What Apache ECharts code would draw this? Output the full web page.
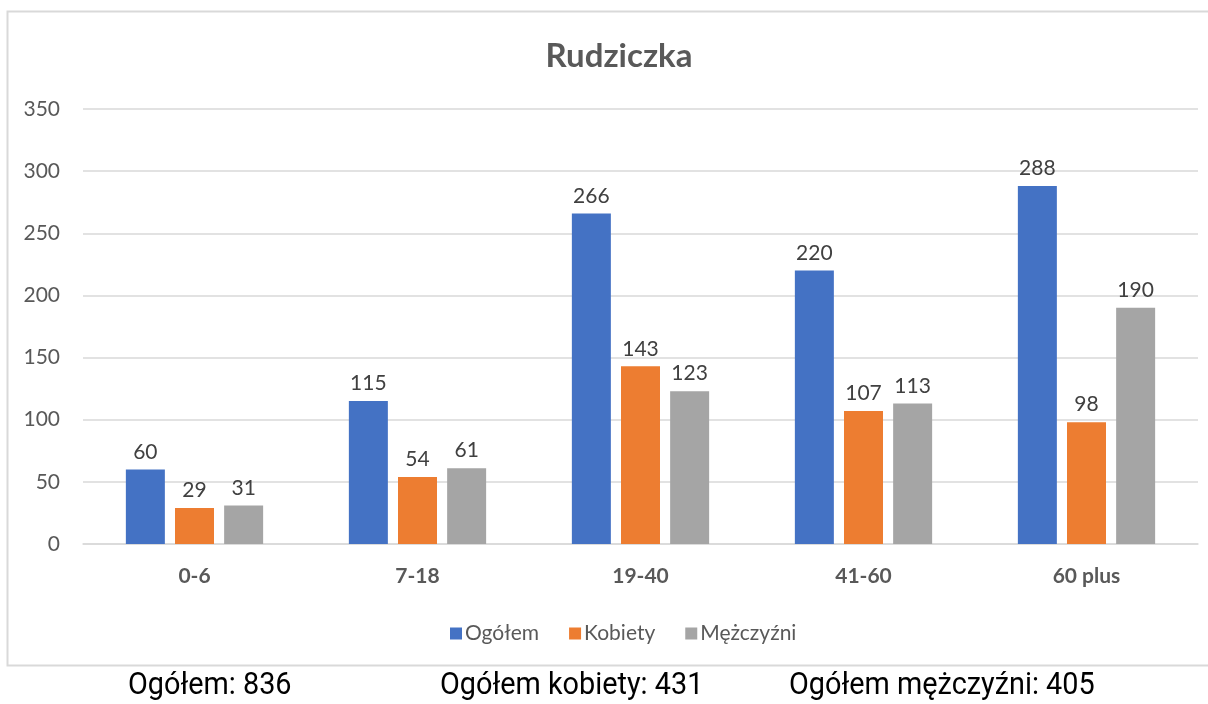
<!DOCTYPE html>
<html><head><meta charset="utf-8">
<script src="https://cdn.jsdelivr.net/npm/echarts@6/dist/echarts.min.js"></script>
<style>html,body{margin:0;padding:0;background:#fff}#c{width:1208px;height:704px}</style>
</head><body><div id="c"></div>
<script>
const categories = ['0-6', '7-18', '19-40', '41-60', '60 plus'];
const ogolem = [60, 115, 266, 220, 288];
const kobiety = [29, 54, 143, 107, 98];
const mezczyzni = [31, 61, 123, 113, 190];
const seriesNames = ['Ogółem', 'Kobiety', 'Mężczyźni'];
const yTicks = [0, 50, 100, 150, 200, 250, 300, 350];
const footer = ['Ogółem: 836', 'Ogółem kobiety: 431', 'Ogółem mężczyźni: 405'];

const font = 'Lato, "Open Sans", sans-serif';
const chart = echarts.init(document.getElementById('c'));
const lbl = {show: true, position: 'top', distance: 7, color: '#404040', fontSize: 21, fontFamily: font};
const foot = (x, t) => ({type: 'text', x: x, y: 671, scaleX: 0.93, originX: 0, originY: 0,
  style: {text: t, fontSize: 31, fill: '#000', fontFamily: 'Roboto, sans-serif'}});
chart.setOption({
  animation: false,
  title: {text: 'Rudziczka', left: 614, top: 35, textAlign: 'center',
    textStyle: {fontSize: 33, fontWeight: 'bold', color: '#595959', fontFamily: font}},
  grid: {left: 83, right: 10, top: 109, bottom: 160},
  legend: {left: 445, top: 618, itemWidth: 12, itemHeight: 12, itemGap: 30, icon: 'rect',
    textStyle: {fontSize: 21, color: '#595959', fontFamily: font, padding: [0, 0, 0, -2]},
    data: seriesNames},
  xAxis: {type: 'category', data: categories,
    axisLine: {lineStyle: {color: '#d9d9d9', width: 1.5}}, axisTick: {show: false},
    axisLabel: {margin: 22, fontSize: 21, fontWeight: 'bold', color: '#595959', fontFamily: font}},
  yAxis: {type: 'value', min: yTicks[0], max: yTicks[yTicks.length - 1], interval: 50,
    axisLine: {show: false}, axisTick: {show: false},
    splitLine: {lineStyle: {color: '#d9d9d9', width: 1.5}},
    axisLabel: {margin: 23, fontSize: 21, color: '#595959', fontFamily: font}},
  series: [
    {name: seriesNames[0], type: 'bar', data: ogolem, barWidth: 39, barGap: '26%', itemStyle: {color: '#4472C4'}, label: lbl},
    {name: seriesNames[1], type: 'bar', data: kobiety, barWidth: 39, barGap: '26%', itemStyle: {color: '#ED7D31'}, label: lbl},
    {name: seriesNames[2], type: 'bar', data: mezczyzni, barWidth: 39, barGap: '26%', itemStyle: {color: '#A5A5A5'}, label: lbl}
  ],
  graphic: [
    {type: 'rect', shape: {x: 7.5, y: 11.5, width: 1230, height: 654}, silent: true,
      style: {fill: null, stroke: '#d9d9d9', lineWidth: 2}},
    foot(128, footer[0]), foot(440, footer[1]), foot(789, footer[2])
  ]
});
</script></body></html>
